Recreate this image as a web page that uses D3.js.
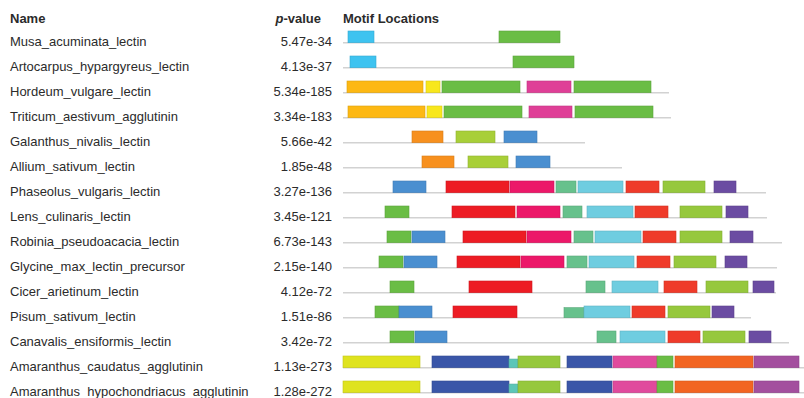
<!DOCTYPE html>
<html>
<head>
<meta charset="utf-8">
<script src="https://cdn.jsdelivr.net/npm/d3@7"></script>
<style>
  html, body { margin: 0; padding: 0; background: #fff; }
  svg { display: block; }
  text { font-family: "Liberation Sans", Arial, Helvetica, sans-serif; fill: #2b2b2b; }
</style>
</head>
<body>
<svg id="chart" width="804" height="398"></svg>
<script>
// Sequence names, in display order
const names = [
  "Musa_acuminata_lectin",
  "Artocarpus_hypargyreus_lectin",
  "Hordeum_vulgare_lectin",
  "Triticum_aestivum_agglutinin",
  "Galanthus_nivalis_lectin",
  "Allium_sativum_lectin",
  "Phaseolus_vulgaris_lectin",
  "Lens_culinaris_lectin",
  "Robinia_pseudoacacia_lectin",
  "Glycine_max_lectin_precursor",
  "Cicer_arietinum_lectin",
  "Pisum_sativum_lectin",
  "Canavalis_ensiformis_lectin",
  "Amaranthus_caudatus_agglutinin",
  "Amaranthus_hypochondriacus_agglutinin"
];

// Combined p-value of each sequence
const pValues = [
  "5.47e-34", "4.13e-37", "5.34e-185", "3.34e-183", "5.66e-42",
  "1.85e-48", "3.27e-136", "3.45e-121", "6.73e-143", "2.15e-140",
  "4.12e-72", "1.51e-86", "3.42e-72", "1.13e-273", "1.28e-272"
];

// Sequence lengths (alignment positions)
const seqLengths = [217, 231, 326, 328, 242, 279, 423, 424, 439, 434, 433, 408, 446, 461, 461];

// Motif colours, keyed by motif id
const motifColors = {
  1: "#3ec3f0", 2: "#6abd45", 3: "#fdb813", 4: "#f8e71c", 5: "#df3f97",
  6: "#f7901e", 7: "#a8cf38", 8: "#4a8fd0", 9: "#ed1c24", 10: "#ec1869",
  11: "#67c18c", 12: "#6fcde0", 13: "#ef3b2a", 14: "#96c83d", 15: "#6b4ca2",
  16: "#dfe31f", 17: "#3a56a8", 18: "#5cc6b8", 19: "#e04a9d", 20: "#f26522",
  21: "#a34f9e"
};

// Motif sites per sequence: [motif id, start, end, relative height]
const sites = [
  [[1, 5, 31, 1], [2, 156, 217, 1]],
  [[1, 7, 33, 1], [2, 170, 231, 1]],
  [[3, 4, 80, 1], [4, 83, 97, 1], [2, 99, 177, 1], [5, 184, 228, 1], [2, 231, 308, 1]],
  [[3, 5, 82, 1], [4, 84, 99, 1], [2, 101, 179, 1], [5, 186, 229, 1], [2, 232, 310, 1]],
  [[6, 69, 100, 1], [7, 113, 152, 1], [8, 161, 194, 1]],
  [[6, 79, 111, 1], [7, 125, 165, 1], [8, 173, 207, 1]],
  [[8, 50, 83, 1], [9, 103, 166, 1], [10, 167, 211, 1], [11, 213, 233, 1], [12, 235, 280, 1], [13, 283, 316, 1], [14, 320, 362, 1], [15, 371, 393, 1]],
  [[2, 42, 66, 1], [9, 109, 172, 1], [10, 174, 217, 1], [11, 220, 239, 1], [12, 244, 290, 1], [13, 292, 325, 1], [14, 337, 379, 1], [15, 383, 405, 1]],
  [[2, 44, 68, 1], [8, 69, 102, 1], [9, 120, 183, 1], [10, 184, 228, 1], [11, 231, 250, 1], [12, 252, 298, 1], [13, 300, 333, 1], [14, 337, 379, 1], [15, 387, 410, 1]],
  [[2, 36, 60, 1], [8, 61, 94, 1], [9, 114, 177, 1], [10, 178, 221, 1], [11, 224, 244, 1], [12, 246, 291, 1], [13, 294, 327, 1], [14, 331, 373, 1], [15, 382, 404, 1]],
  [[2, 47, 71, 1], [9, 126, 189, 1], [11, 243, 262, 1], [12, 269, 315, 1], [13, 321, 354, 1], [14, 363, 405, 1], [15, 410, 431, 1]],
  [[2, 32, 56, 1], [8, 56, 89, 1], [9, 110, 174, 1], [11, 221, 241, 0.86], [12, 241, 287, 1], [13, 289, 322, 1], [14, 325, 367, 1], [15, 369, 391, 1]],
  [[2, 47, 71, 1], [8, 72, 104, 1], [11, 254, 273, 1], [12, 277, 322, 1], [13, 325, 357, 1], [14, 360, 402, 1], [15, 406, 428, 1]],
  [[16, 0, 77, 1], [17, 89, 166, 1], [18, 166, 175, 0.74], [14, 175, 217, 1], [17, 224, 269, 1], [19, 270, 314, 1], [2, 314, 330, 1], [20, 332, 410, 1], [21, 411, 456, 1]],
  [[16, 0, 77, 1], [17, 89, 166, 1], [18, 166, 175, 0.74], [14, 175, 217, 1], [17, 224, 269, 1], [19, 270, 314, 1], [2, 314, 330, 1], [20, 332, 410, 1], [21, 411, 456, 1]]
];

const svg = d3.select("#chart");

const x = d3.scaleLinear().domain([0, 461]).range([343, 804]);
const y = d3.scalePoint().domain(names).range([42.7, 392.7]);
const boxH = 11.7;

// Column headers
svg.append("text").attr("x", 10).attr("y", 23)
  .attr("font-size", 13).attr("font-weight", "bold").text("Name");
const pv = svg.append("text").attr("x", 321).attr("y", 23).attr("text-anchor", "end")
  .attr("font-size", 13).attr("font-weight", "bold");
pv.append("tspan").attr("font-style", "italic").text("p");
pv.append("tspan").text("-value");
svg.append("text").attr("x", 343).attr("y", 23)
  .attr("font-size", 13).attr("font-weight", "bold").text("Motif Locations");

const rows = svg.selectAll("g.row")
  .data(names.map((n, i) => ({ name: n, p: pValues[i], len: seqLengths[i], sites: sites[i] })))
  .join("g").attr("class", "row")
  .attr("transform", d => `translate(0,${y(d.name)})`);

rows.append("text").attr("x", 10).attr("y", 3.6)
  .attr("font-size", 13).text(d => d.name);

rows.append("text").attr("x", 332).attr("y", 3.6).attr("text-anchor", "end")
  .attr("font-size", 13).text(d => d.p);

// Sequence backbone
rows.append("line")
  .attr("x1", x(0)).attr("x2", d => x(d.len))
  .attr("y1", 0).attr("y2", 0)
  .attr("stroke", "#d2d2d2").attr("stroke-width", 1.5);

// Motif boxes
rows.selectAll("rect")
  .data(d => d.sites)
  .join("rect")
  .attr("x", s => x(s[1]))
  .attr("width", s => x(s[2]) - x(s[1]))
  .attr("y", s => -boxH * s[3])
  .attr("height", s => boxH * s[3])
  .attr("fill", s => motifColors[s[0]])
  .attr("stroke", s => d3.color(motifColors[s[0]]).darker(0.4))
  .attr("stroke-width", 0.6);
</script>
</body>
</html>
